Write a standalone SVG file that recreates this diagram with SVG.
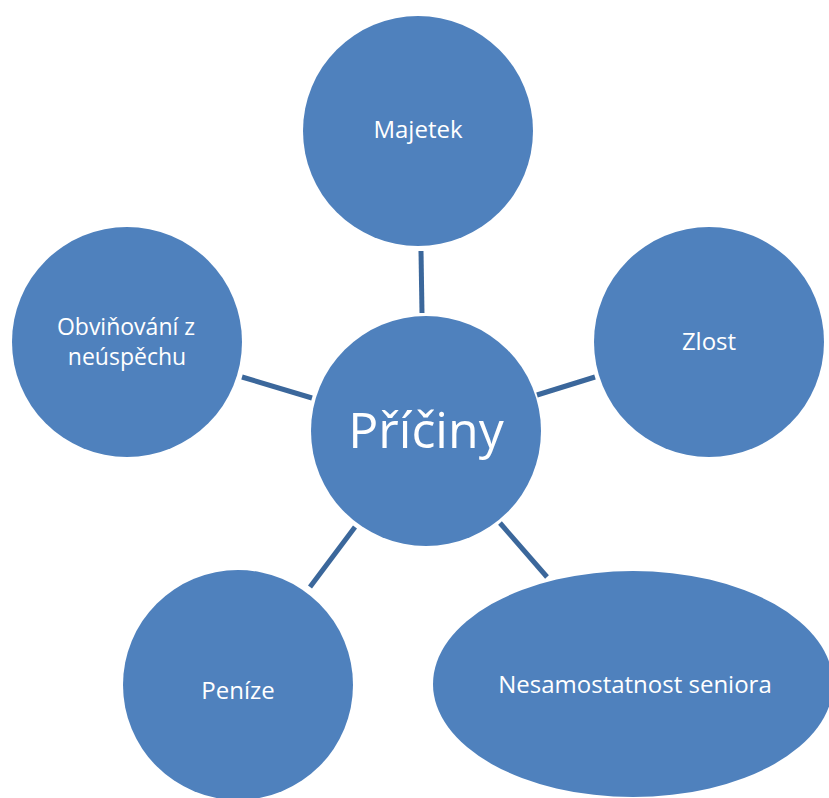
<svg xmlns="http://www.w3.org/2000/svg" width="829" height="798" viewBox="0 0 829 798">
<style>
.n{fill:#4F81BD}
.t{fill:#FFFFFF;font-family:"Open Sans","Noto Sans",sans-serif;font-size:24px;text-anchor:middle}
.c{stroke:#3B679B;stroke-width:5;fill:none}
</style>
<rect width="829" height="798" fill="#FFFFFF"/>
<g id="connectors">
<line class="c" x1="421" y1="251" x2="422" y2="313"/>
<line class="c" x1="242" y1="377" x2="312" y2="398"/>
<line class="c" x1="537" y1="395" x2="595" y2="377"/>
<line class="c" x1="355" y1="527" x2="310" y2="587"/>
<line class="c" x1="500" y1="523" x2="547" y2="577"/>
</g>
<g id="majetek"><circle class="n" cx="418" cy="131" r="115"/><text class="t" x="418" y="138">Majetek</text></g>
<g id="obvinovani"><circle class="n" cx="127" cy="342" r="115"/><text class="t" x="126" y="335" style="font-size:23px">Obviňování z</text><text class="t" x="127" y="365" style="font-size:23px">neúspěchu</text></g>
<g id="zlost"><circle class="n" cx="709" cy="342" r="115"/><text class="t" x="709" y="350">Zlost</text></g>
<g id="penize"><circle class="n" cx="238" cy="685" r="115"/><text class="t" x="238" y="699">Peníze</text></g>
<g id="nesamostatnost"><ellipse class="n" cx="633" cy="684" rx="200" ry="113"/><text class="t" x="635" y="693">Nesamostatnost seniora</text></g>
<g id="priciny"><circle class="n" cx="426" cy="431" r="115"/><text class="t" x="426" y="448" style="font-size:50px">Příčiny</text></g>
</svg>
